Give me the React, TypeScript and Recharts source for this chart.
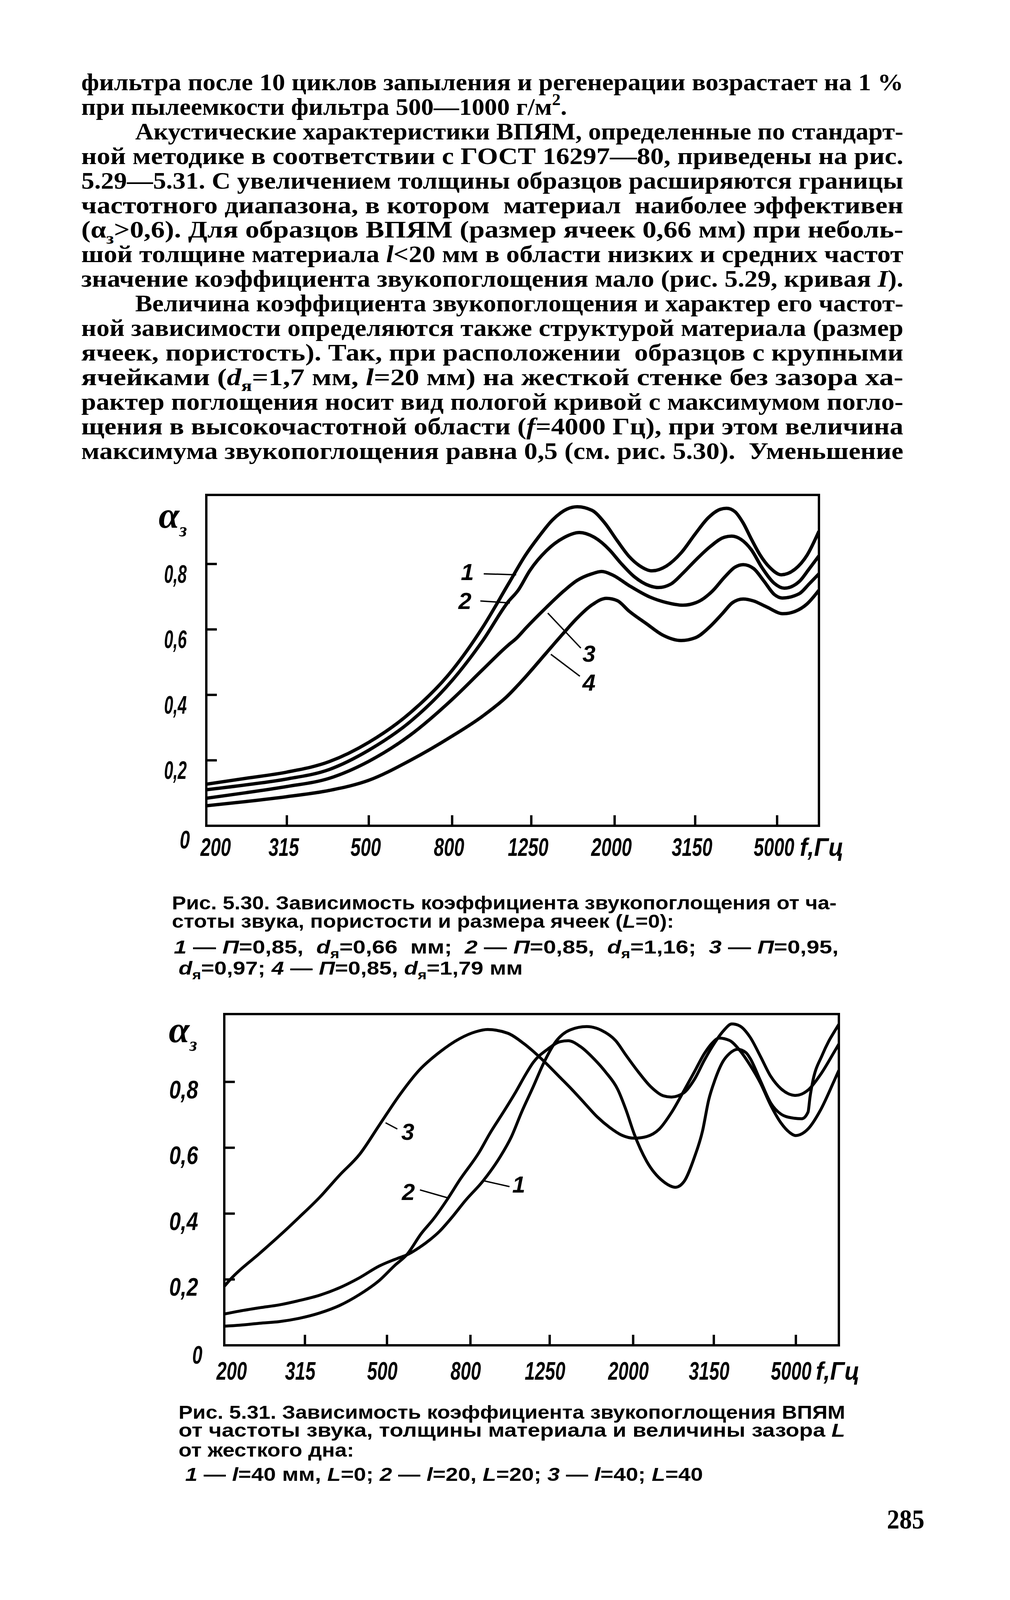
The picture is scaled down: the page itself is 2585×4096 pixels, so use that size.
import React from "react";
import {
  LineChart,
  Line,
  XAxis,
  YAxis,
  ReferenceArea,
  ReferenceLine,
  ReferenceDot,
} from "recharts";

// [частота, Гц ; коэффициент звукопоглощения]
type Pt = [number, number];

const FREQ_TICKS = [200, 315, 500, 800, 1250, 2000, 3150, 5000];
const ALPHA_TICKS = [0, 0.2, 0.4, 0.6, 0.8];

// Рис. 5.30
const fig30Curve1: Pt[] = [
  [200, 0.127], [250, 0.145], [315, 0.164], [400, 0.196], [500, 0.255], [630, 0.344],
  [800, 0.475], [950, 0.606], [1100, 0.74], [1210, 0.827], [1300, 0.881], [1410, 0.935],
  [1530, 0.968], [1620, 0.975], [1760, 0.964], [1890, 0.926], [2030, 0.871], [2170, 0.823],
  [2300, 0.795], [2470, 0.779], [2680, 0.794], [2910, 0.834], [3160, 0.894], [3390, 0.941],
  [3630, 0.967], [3760, 0.97], [3940, 0.96], [4130, 0.925], [4320, 0.877], [4530, 0.83],
  [4800, 0.789], [5120, 0.767], [5530, 0.784], [5920, 0.827], [6330, 0.9],
];
const fig30Curve2: Pt[] = [
  [200, 0.11], [250, 0.125], [315, 0.143], [400, 0.172], [500, 0.231], [630, 0.317],
  [800, 0.444], [950, 0.565], [1100, 0.686], [1160, 0.719], [1240, 0.78], [1360, 0.84],
  [1500, 0.88], [1640, 0.896], [1780, 0.882], [1940, 0.844], [2070, 0.803], [2230, 0.762],
  [2440, 0.733], [2560, 0.728], [2750, 0.739], [2940, 0.772], [3160, 0.812], [3420, 0.852],
  [3720, 0.882], [3870, 0.885], [4080, 0.875], [4320, 0.844], [4590, 0.789], [4920, 0.741],
  [5210, 0.726], [5660, 0.746], [5990, 0.785], [6330, 0.825],
];
const fig30Curve3: Pt[] = [
  [200, 0.084], [250, 0.101], [315, 0.12], [400, 0.145], [500, 0.197], [630, 0.276],
  [800, 0.386], [950, 0.477], [1100, 0.553], [1150, 0.573], [1210, 0.603], [1360, 0.667],
  [1500, 0.717], [1620, 0.75], [1760, 0.77], [1860, 0.777], [1980, 0.766], [2170, 0.734],
  [2440, 0.699], [2680, 0.682], [2940, 0.674], [3230, 0.687], [3470, 0.717], [3720, 0.76],
  [3940, 0.79], [4130, 0.798], [4380, 0.786], [4640, 0.748], [4920, 0.707], [5150, 0.696],
  [5660, 0.709], [5990, 0.739], [6330, 0.77],
];
const fig30Curve4: Pt[] = [
  [200, 0.061], [250, 0.074], [315, 0.089], [400, 0.108], [500, 0.139], [630, 0.199],
  [800, 0.274], [950, 0.335], [1100, 0.4], [1150, 0.425], [1210, 0.455], [1360, 0.528],
  [1500, 0.589], [1620, 0.635], [1760, 0.675], [1910, 0.695], [2030, 0.688], [2170, 0.656],
  [2390, 0.618], [2620, 0.583], [2910, 0.566], [3160, 0.575], [3420, 0.608], [3670, 0.648],
  [3890, 0.682], [4130, 0.693], [4380, 0.687], [4690, 0.67], [5180, 0.648], [5530, 0.655],
  [5920, 0.678], [6330, 0.72],
];

// Рис. 5.31
const fig31Curve1: Pt[] = [
  [200, 0.095], [218, 0.104], [244, 0.114], [273, 0.123], [305, 0.136], [342, 0.152],
  [383, 0.175], [428, 0.205], [479, 0.241], [513, 0.257], [536, 0.266], [558, 0.274],
  [600, 0.297], [636, 0.32], [672, 0.346], [719, 0.387], [778, 0.44], [860, 0.5],
  [943, 0.57], [1008, 0.634], [1067, 0.708], [1139, 0.785], [1206, 0.855], [1293, 0.922],
  [1403, 0.958], [1540, 0.968], [1671, 0.957], [1813, 0.925], [1921, 0.881], [2060, 0.83],
  [2210, 0.785], [2368, 0.758], [2482, 0.754], [2662, 0.767], [2822, 0.807], [2990, 0.867],
  [3170, 0.92], [3320, 0.954], [3487, 0.976], [3645, 0.97], [3863, 0.936], [4094, 0.878],
  [4340, 0.817], [4600, 0.779], [4992, 0.759], [5354, 0.775], [5742, 0.822], [6192, 0.889],
  [6370, 0.915],
];
const fig31Curve2: Pt[] = [
  [200, 0.058], [218, 0.061], [244, 0.067], [273, 0.072], [305, 0.082], [342, 0.098],
  [383, 0.121], [428, 0.154], [479, 0.197], [524, 0.244], [558, 0.274], [607, 0.34],
  [650, 0.384], [703, 0.444], [752, 0.501], [842, 0.588], [891, 0.642], [964, 0.709],
  [1032, 0.769], [1091, 0.822], [1139, 0.859], [1235, 0.899], [1324, 0.922], [1387, 0.925],
  [1487, 0.907], [1595, 0.873], [1710, 0.831], [1834, 0.777], [1921, 0.715], [2013, 0.641],
  [2158, 0.559], [2368, 0.498], [2540, 0.48], [2662, 0.497], [2822, 0.57], [2956, 0.651],
  [3060, 0.745], [3170, 0.806], [3320, 0.863], [3439, 0.886], [3602, 0.899], [3774, 0.889],
  [3863, 0.872], [4094, 0.804], [4340, 0.736], [4600, 0.702], [4876, 0.691], [5170, 0.688],
  [5354, 0.708], [5416, 0.755], [5480, 0.792], [5808, 0.883], [6014, 0.923], [6192, 0.95],
  [6370, 0.975],
];
const fig31Curve3: Pt[] = [
  [200, 0.179], [208, 0.203], [244, 0.279], [273, 0.333], [305, 0.389], [342, 0.449],
  [383, 0.517], [428, 0.579], [479, 0.669], [536, 0.759], [600, 0.836], [672, 0.89],
  [752, 0.931], [823, 0.952], [881, 0.959], [986, 0.948], [1079, 0.917], [1139, 0.893],
  [1235, 0.852], [1324, 0.814], [1419, 0.776], [1522, 0.735], [1633, 0.694], [1751, 0.662],
  [1877, 0.638], [2013, 0.629], [2158, 0.634], [2314, 0.656], [2482, 0.707], [2662, 0.773],
  [2822, 0.83], [2990, 0.887], [3133, 0.92], [3244, 0.933], [3439, 0.926], [3645, 0.896],
  [3863, 0.851], [4094, 0.797], [4340, 0.729], [4600, 0.675], [4820, 0.647], [4992, 0.637],
  [5354, 0.657], [5742, 0.714], [6192, 0.801], [6370, 0.835],
];

// номера кривых с выносками: подпись, конец выноски у подписи, точка на кривой
type CurveTag = { text: string; at: Pt; from: Pt; to: Pt };
const fig30Tags: CurveTag[] = [
  { text: "1", at: [872, 0.776], from: [956, 0.77], to: [1148, 0.767] },
  { text: "2", at: [860, 0.687], from: [938, 0.687], to: [1108, 0.681] },
  { text: "3", at: [1731, 0.526], from: [1653, 0.543], to: [1372, 0.65] },
  { text: "4", at: [1731, 0.438], from: [1644, 0.457], to: [1396, 0.524] },
];
const fig31Tags: CurveTag[] = [
  { text: "3", at: [562, 0.649], from: [530, 0.657], to: [496, 0.676] },
  { text: "2", at: [564, 0.466], from: [602, 0.472], to: [708, 0.447] },
  { text: "1", at: [1050, 0.489], from: [997, 0.482], to: [860, 0.5] },
];

// текст страницы
type Seg = [string, ("i" | "sub" | "sup")?];
const BODY: Seg[][] = [
  [["фильтра после 10 циклов запыления и регенерации возрастает на 1 %"]],
  [["при пылеемкости фильтра 500—1000 г/м"], ["2", "sup"], ["."]],
  [["Акустические характеристики ВПЯМ, определенные по стандарт-"]],
  [["ной методике в соответствии с ГОСТ 16297—80, приведены на рис."]],
  [["5.29—5.31. С увеличением толщины образцов расширяются границы"]],
  [["частотного диапазона, в котором  материал  наиболее эффективен"]],
  [["(α"], ["з", "sub"], [">0,6). Для образцов ВПЯМ (размер ячеек 0,66 мм) при неболь-"]],
  [["шой толщине материала "], ["l", "i"], ["<20 мм в области низких и средних частот"]],
  [["значение коэффициента звукопоглощения мало (рис. 5.29, кривая "], ["I", "i"], [")."]],
  [["Величина коэффициента звукопоглощения и характер его частот-"]],
  [["ной зависимости определяются также структурой материала (размер"]],
  [["ячеек, пористость). Так, при расположении  образцов с крупными"]],
  [["ячейками ("], ["d", "i"], ["я", "sub"], ["=1,7 мм, "], ["l", "i"], ["=20 мм) на жесткой стенке без зазора ха-"]],
  [["рактер поглощения носит вид пологой кривой с максимумом погло-"]],
  [["щения в высокочастотной области ("], ["f", "i"], ["=4000 Гц), при этом величина"]],
  [["максимума звукопоглощения равна 0,5 (см. рис. 5.30).  Уменьшение"]],
];
const BODY_INDENT = [2, 9];
const BODY_SHORT: Record<number, number> = { 1: 1451 };

const CAPTION_30: Seg[][] = [
  [["Рис. 5.30. Зависимость коэффициента звукопоглощения от ча-"]],
  [["стоты звука, пористости и размера ячеек ("], ["L", "i"], ["=0):"]],
  [["1", "i"], [" — "], ["П", "i"], ["=0,85,  "], ["d", "i"], ["я", "sub"], ["=0,66  мм;  "], ["2", "i"], [" — "], ["П", "i"], ["=0,85,  "], ["d", "i"], ["я", "sub"], ["=1,16;  "], ["3", "i"], [" — "], ["П", "i"], ["=0,95,"]],
  [["d", "i"], ["я", "sub"], ["=0,97; "], ["4", "i"], [" — "], ["П", "i"], ["=0,85, "], ["d", "i"], ["я", "sub"], ["=1,79 мм"]],
];
const CAPTION_31: Seg[][] = [
  [["Рис. 5.31. Зависимость коэффициента звукопоглощения ВПЯМ"]],
  [["от частоты звука, толщины материала и величины зазора "], ["L", "i"]],
  [["от жесткого дна:"]],
  [["1", "i"], [" — "], ["l", "i"], ["=40 мм, "], ["L", "i"], ["=0; "], ["2", "i"], [" — "], ["l", "i"], ["=20, "], ["L", "i"], ["=20; "], ["3", "i"], [" — "], ["l", "i"], ["=40; "], ["L", "i"], ["=40"]],
];

const SERIF = "'Liberation Serif', 'DejaVu Serif', serif";
const SANS = "'Liberation Sans', 'DejaVu Sans', sans-serif";

function runs(segs: Seg[], size: number) {
  let shift = 0;
  return segs.map(([txt, st], i) => {
    const target = st === "sub" ? size * 0.25 : st === "sup" ? -size * 0.4 : 0;
    const dy = target - shift;
    shift = target;
    const small = st === "sub" || st === "sup";
    return (
      <tspan
        key={i}
        dy={dy}
        fontStyle={st === "i" ? "italic" : undefined}
        fontSize={small ? size * 0.68 : undefined}
      >
        {txt}
      </tspan>
    );
  });
}

function TextLine(props: { segs: Seg[]; x0: number; x1: number; y: number; size: number; font: string }) {
  const { segs, x0, x1, y, size, font } = props;
  return (
    <text
      x={x0}
      y={y}
      textLength={x1 - x0}
      lengthAdjust="spacingAndGlyphs"
      fontFamily={font}
      fontSize={size}
      fontWeight={700}
      fill="#000"
      style={{ whiteSpace: "pre" }}
    >
      {runs(segs, size)}
    </text>
  );
}

function PageText() {
  const cap30 = [
    { x0: 440, x1: 2141, y: 2328 },
    { x0: 440, x1: 1725, y: 2375 },
    { x0: 445, x1: 2146, y: 2441 },
    { x0: 457, x1: 1338, y: 2495 },
  ];
  const cap31 = [
    { x0: 457, x1: 2163, y: 3632 },
    { x0: 457, x1: 2163, y: 3678 },
    { x0: 457, x1: 906, y: 3729 },
    { x0: 474, x1: 1799, y: 3791 },
  ];
  return (
    <svg width={2585} height={4096} style={{ position: "absolute", left: 0, top: 0 }}>
      {BODY.map((segs, i) => (
        <TextLine
          key={i}
          segs={segs}
          x0={BODY_INDENT.includes(i) ? 346 : 208}
          x1={BODY_SHORT[i] ?? 2312}
          y={231 + i * 62.9}
          size={62}
          font={SERIF}
        />
      ))}
      {CAPTION_30.map((segs, i) => (
        <TextLine key={"a" + i} segs={segs} {...cap30[i]} size={48} font={SANS} />
      ))}
      {CAPTION_31.map((segs, i) => (
        <TextLine key={"b" + i} segs={segs} {...cap31[i]} size={48} font={SANS} />
      ))}
      <text x={2270} y={3913} textLength={96} lengthAdjust="spacingAndGlyphs" fontFamily={SERIF} fontSize={70} fontWeight={700}>
        285
      </text>
    </svg>
  );
}

type Look = {
  curve: number;
  tickLen: number;
  firstDx: number;
  xShift: number;
  xLabelDy: number;
  yGap: number;
  yLabelDy: number;
  yLabelW: number;
  zeroDx: number;
  zeroDy: number;
  unitDx: number;
  alphaDx: number;
  alphaDy: number;
};

const FRAME = 6;
const TICK_TEXT = {
  fontFamily: SANS,
  fontStyle: "italic" as const,
  fontWeight: 700,
  fontSize: 64,
  fill: "#000",
  lengthAdjust: "spacingAndGlyphs",
};

function FreqTick(props: any) {
  const { x, y, payload, index, look } = props;
  const label = String(payload.value);
  const dx = index === 0 ? look.firstDx : look.xShift;
  return (
    <g>
      {index > 0 && <line x1={x} y1={y} x2={x} y2={y - look.tickLen} stroke="#000" strokeWidth={FRAME} />}
      <text x={x + dx} y={y + look.xLabelDy} textAnchor="middle" textLength={label.length * 26} {...TICK_TEXT}>
        {label}
      </text>
    </g>
  );
}

function AlphaTick(props: any) {
  const { x, y, payload, look } = props;
  const v = payload.value as number;
  if (v === 0) {
    return (
      <text x={x + look.zeroDx} y={y + look.zeroDy} textAnchor="middle" textLength={26} {...TICK_TEXT}>
        0
      </text>
    );
  }
  const label = v.toFixed(1).replace(".", ",");
  return (
    <g>
      <line x1={x} y1={y} x2={x + look.tickLen} y2={y} stroke="#000" strokeWidth={FRAME} />
      <text x={x - look.yGap} y={y + look.yLabelDy} textAnchor="end" textLength={look.yLabelW} {...TICK_TEXT}>
        {label}
      </text>
    </g>
  );
}

type FigProps = {
  curves: Pt[][];
  tags: CurveTag[];
  xMax: number;
  yMax: number;
  left: number;
  top: number;
  plotW: number;
  plotH: number;
  look: Look;
};

// поля вокруг области построения: слева место занимает ось Y, снизу — ось X
const AX_LEFT = 220;
const AX_BOTTOM = 140;
const M = { top: 120, right: 180, bottom: 0, left: 0 };

function Figure({ curves, tags, xMax, yMax, left, top, plotW, plotH, look }: FigProps) {
  return (
    <div style={{ position: "absolute", left: left - AX_LEFT, top: top - M.top }}>
      <LineChart width={plotW + AX_LEFT + M.right} height={plotH + M.top + AX_BOTTOM} margin={M}>
        <XAxis
          dataKey="f"
          type="number"
          scale="log"
          domain={[200, xMax]}
          allowDataOverflow
          ticks={FREQ_TICKS}
          interval={0}
          height={AX_BOTTOM}
          axisLine={false}
          tickLine={false}
          tickSize={0}
          tickMargin={0}
          tick={(p: any) => <FreqTick {...p} look={look} />}
          label={{
            content: (p: any) => {
              const vb = p.viewBox;
              return (
                <text x={vb.x + vb.width + look.unitDx} y={vb.y + look.xLabelDy} textAnchor="middle" textLength={112} {...TICK_TEXT}>
                  f,Гц
                </text>
              );
            },
          }}
        />
        <YAxis
          type="number"
          domain={[0, yMax]}
          allowDataOverflow
          ticks={ALPHA_TICKS}
          interval={0}
          width={AX_LEFT}
          axisLine={false}
          tickLine={false}
          tickSize={0}
          tickMargin={0}
          tick={(p: any) => <AlphaTick {...p} look={look} />}
          label={{
            content: (p: any) => {
              const vb = p.viewBox;
              return (
                <text x={vb.x + vb.width + look.alphaDx} y={vb.y + look.alphaDy} fontFamily={SERIF} fontStyle="italic" fontWeight={700} fontSize={96} fill="#000">
                  α<tspan fontSize={50} dy={22}>з</tspan>
                </text>
              );
            },
          }}
        />
        <ReferenceArea x1={200} x2={xMax} y1={0} y2={yMax} fill="none" stroke="#000" strokeWidth={FRAME} ifOverflow="visible" />
        {curves.map((c, i) => (
          <Line
            key={i}
            data={c.map(([f, a]) => ({ f, a }))}
            dataKey="a"
            type="monotone"
            stroke="#000"
            strokeWidth={look.curve}
            strokeLinejoin="round"
            dot={false}
            activeDot={false}
            isAnimationActive={false}
          />
        ))}
        {tags.map((t, i) => (
          <ReferenceLine
            key={"l" + i}
            segment={[
              { x: t.from[0], y: t.from[1] },
              { x: t.to[0], y: t.to[1] },
            ]}
            stroke="#000"
            strokeWidth={3.5}
            ifOverflow="visible"
          />
        ))}
        {tags.map((t, i) => (
          <ReferenceDot
            key={"t" + i}
            x={t.at[0]}
            y={t.at[1]}
            r={0}
            ifOverflow="visible"
            shape={(p: any) => (
              <text x={p.cx} y={p.cy + 21} textAnchor="middle" fontFamily={SANS} fontStyle="italic" fontWeight={700} fontSize={60} fill="#000">
                {t.text}
              </text>
            )}
          />
        ))}
      </LineChart>
    </div>
  );
}

const look30: Look = {
  curve: 8.5,
  tickLen: 27,
  firstDx: 24,
  xShift: -8,
  xLabelDy: 77,
  yGap: 50,
  yLabelDy: 48,
  yLabelW: 58,
  zeroDx: -55,
  zeroDy: 58,
  unitDx: 7,
  alphaDx: -122,
  alphaDy: 84,
};

const look31: Look = {
  curve: 7.5,
  tickLen: 27,
  firstDx: 19,
  xShift: -12,
  xLabelDy: 88,
  yGap: 67,
  yLabelDy: 42,
  yLabelW: 74,
  zeroDx: -69,
  zeroDy: 47,
  unitDx: -3,
  alphaDx: -142,
  alphaDy: 72,
};

export default function App() {
  return (
    <div style={{ position: "absolute", left: 0, top: 0, width: 2585, height: 4096, background: "#fff", overflow: "hidden" }}>
      <PageText />
      <Figure
        curves={[fig30Curve1, fig30Curve2, fig30Curve3, fig30Curve4]}
        tags={fig30Tags}
        xMax={6330}
        yMax={1.011}
        left={528}
        top={1267}
        plotW={1568}
        plotH={847}
        look={look30}
      />
      <Figure
        curves={[fig31Curve1, fig31Curve2, fig31Curve3]}
        tags={fig31Tags}
        xMax={6370}
        yMax={1.006}
        left={574}
        top={2596}
        plotW={1573}
        plotH={848}
        look={look31}
      />
    </div>
  );
}
